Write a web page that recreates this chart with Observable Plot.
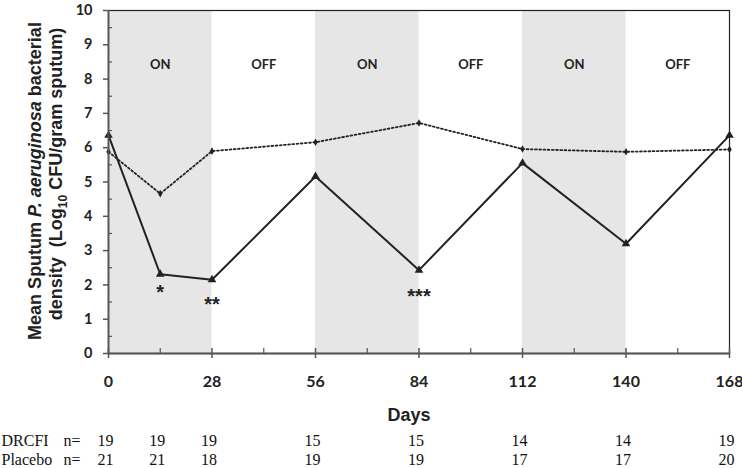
<!DOCTYPE html>
<html>
<head>
<meta charset="utf-8">
<script src="https://cdn.jsdelivr.net/npm/d3@7"></script>
<script src="https://cdn.jsdelivr.net/npm/@observablehq/plot@0.6"></script>
<style>
  html, body { margin: 0; padding: 0; background: #fff; }
  #chart svg { display: block; }
</style>
</head>
<body>
<div id="chart"></div>
<script>
// ---- data ----
const days = [0, 14, 28, 56, 84, 112, 140, 168];
const drcfi = [6.36, 2.31, 2.15, 5.16, 2.43, 5.55, 3.2, 6.36];
const placebo = [5.88, 4.66, 5.9, 6.16, 6.72, 5.96, 5.88, 5.95];
const nDrcfi = [19, 19, 19, 15, 15, 14, 14, 19];
const nPlacebo = [21, 21, 18, 19, 19, 17, 17, 20];
const bandStart = [0, 56, 112];
const bandEnd = [28, 84, 140];
const phaseDays = [14, 42, 70, 98, 126, 154];
const phaseLabels = ["ON", "OFF", "ON", "OFF", "ON", "OFF"];
const phaseLevel = 8.42;
const starDays = [14, 28, 84];
const starLevels = [1.77, 1.42, 1.66];
const starLabels = ["*", "**", "***"];
const xTicks = [0, 28, 56, 84, 112, 140, 168];
const xMinor = [14, 42, 70, 98, 126, 154];
const yTicks = [0, 1, 2, 3, 4, 5, 6, 7, 8, 9, 10];
const yMinor = [0.5, 1.5, 2.5, 3.5, 4.5, 5.5, 6.5, 7.5, 8.5, 9.5];

const drcfiRows = days.map((d, i) => ({day: d, value: drcfi[i], n: nDrcfi[i]}));
const placeboRows = days.map((d, i) => ({day: d, value: placebo[i], n: nPlacebo[i]}));
const bands = bandStart.map((s, i) => ({x1: s, x2: bandEnd[i]}));
const phases = phaseDays.map((d, i) => ({day: d, label: phaseLabels[i]}));
const stars = starDays.map((d, i) => ({day: d, y: starLevels[i], label: starLabels[i]}));

const ink = "#222";
const axisInk = "#555";
const sansBold = "Lato, 'Open Sans', sans-serif";
const serif = "'Liberation Serif', serif";

const chart = Plot.plot({
  width: 742,
  height: 468,
  marginLeft: 108,
  marginRight: 13,
  marginTop: 10,
  marginBottom: 115,
  style: {background: "#fff"},
  x: {domain: [0, 168], axis: null},
  y: {domain: [0, 10], axis: null},
  marks: [
    Plot.rect(bands, {x1: "x1", x2: "x2", y1: 0, y2: 10, fill: "#e6e6e6"}),
    Plot.text(phases, {x: "day", y: phaseLevel, text: "label", fontSize: 13, fontWeight: "bold", fontFamily: sansBold, fill: ink}),
    Plot.line(placeboRows, {x: "day", y: "value", stroke: ink, strokeWidth: 1.8, strokeDasharray: "1.8,2.4"}),
    Plot.line(drcfiRows, {x: "day", y: "value", stroke: ink, strokeWidth: 2}),
    Plot.dot(placeboRows, {x: "day", y: "value", symbol: "diamond", r: 2.3, fill: ink}),
    Plot.dot(drcfiRows, {x: "day", y: "value", symbol: "triangle", r: 3.2, fill: ink}),
    Plot.text(stars, {x: "day", y: "y", text: "label", fontSize: 20, fontWeight: "bold", fontFamily: "'Liberation Sans', Arial, sans-serif", fill: ink, lineAnchor: "middle"}),
    Plot.frame({stroke: ink, strokeWidth: 1.2}),
    // y axis
    Plot.ruleX([0], {stroke: axisInk, strokeWidth: 1.8}),
    Plot.axisY(yTicks, {anchor: "left", tickSize: 5, tickPadding: 11, stroke: axisInk, strokeWidth: 1.5, fontSize: 14.5, fontWeight: "bold", fontFamily: sansBold, fill: ink, label: null}),
    Plot.axisY(yMinor, {anchor: "left", tickSize: -4, tickFormat: () => "", stroke: axisInk, strokeWidth: 1.2, label: null}),
    // x axis
    Plot.ruleY([0], {stroke: axisInk, strokeWidth: 1.8}),
    Plot.axisX(xTicks, {anchor: "bottom", tickSize: 5, tickPadding: 17, stroke: axisInk, strokeWidth: 1.5, fontSize: 16, fontWeight: "bold", fontFamily: sansBold, fill: ink, label: null}),
    Plot.axisX(xTicks, {anchor: "bottom", tickSize: -5, tickFormat: () => "", stroke: axisInk, strokeWidth: 1.5, label: null}),
    Plot.axisX(xMinor, {anchor: "bottom", tickSize: -5, tickFormat: () => "", stroke: axisInk, strokeWidth: 1.2, label: null}),
    // x title
    Plot.text(["Days"], {x: 84, frameAnchor: "bottom", dy: 62, dx: -10, text: d => d, fontSize: 18, fontWeight: "bold", fontFamily: "'Liberation Sans', Arial, sans-serif", fill: ink, lineAnchor: "middle"}),
    // n rows
    Plot.text(["DRCFI"], {frameAnchor: "bottom-left", dx: -107, dy: 87, text: d => d, textAnchor: "start", lineAnchor: "middle", fontSize: 16, fontFamily: serif, fill: "#111"}),
    Plot.text(["n="], {frameAnchor: "bottom-left", dx: -45, dy: 87, text: d => d, textAnchor: "start", lineAnchor: "middle", fontSize: 16, fontFamily: serif, fill: "#111"}),
    Plot.text(drcfiRows, {x: "day", frameAnchor: "bottom", dy: 87, dx: -3, text: "n", lineAnchor: "middle", fontSize: 16, fontFamily: serif, fill: "#111"}),
    Plot.text(["Placebo"], {frameAnchor: "bottom-left", dx: -107, dy: 106, text: d => d, textAnchor: "start", lineAnchor: "middle", fontSize: 16, fontFamily: serif, fill: "#111"}),
    Plot.text(["n="], {frameAnchor: "bottom-left", dx: -45, dy: 106, text: d => d, textAnchor: "start", lineAnchor: "middle", fontSize: 16, fontFamily: serif, fill: "#111"}),
    Plot.text(placeboRows, {x: "day", frameAnchor: "bottom", dy: 106, dx: -3, text: "n", lineAnchor: "middle", fontSize: 16, fontFamily: serif, fill: "#111"})
  ]
});

// rich y-axis title (italic species name, subscript 10)
const svg = d3.select(chart);
const g = svg.append("g")
  .attr("font-family", "'Liberation Sans', Arial, sans-serif")
  .attr("font-size", 18)
  .attr("font-weight", "bold")
  .attr("fill", ink)
  .attr("text-anchor", "middle");
const t1 = g.append("text").attr("transform", "translate(41,181) rotate(-90)");
t1.append("tspan").text("Mean Sputum ");
t1.append("tspan").attr("font-style", "italic").text("P. aeruginosa");
t1.append("tspan").text(" bacterial");
const t2 = g.append("text").attr("transform", "translate(62,174) rotate(-90)");
t2.append("tspan").text("density  (Log");
t2.append("tspan").attr("font-size", 12).attr("dy", 5).text("10");
t2.append("tspan").attr("dy", -5).text(" CFU/gram sputum)");

document.getElementById("chart").appendChild(chart);
</script>
</body>
</html>
